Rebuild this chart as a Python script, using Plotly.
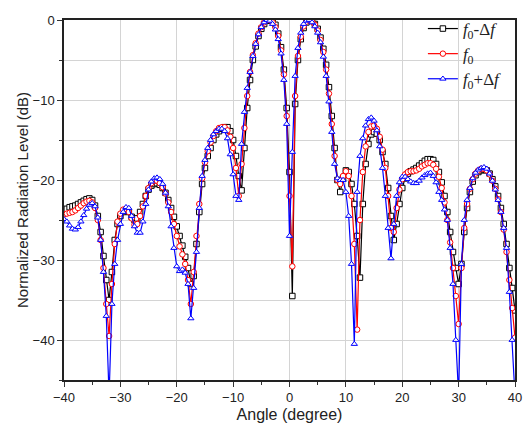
import plotly.graph_objects as go

angles = [-40 + 0.5 * i for i in range(161)]

black_db = [
 -23.8,-23.6,-23.4,-23.3,-23.2,-23.0,-22.8,-22.6,-22.4,-22.3,
 -22.5,-23.2,-24.5,-26.5,-29.5,-32.5,-35.0,-31.5,-27.5,-25.5,
 -24.5,-24.0,-23.8,-24.0,-24.6,-25.0,-24.8,-24.0,-23.0,-22.0,
 -21.2,-20.7,-20.5,-20.4,-20.6,-21.0,-21.6,-22.5,-23.5,-24.6,
 -25.8,-27.0,-28.2,-29.6,-31.0,-33.0,-32.0,-28.0,-24.0,-20.5,
 -18.5,-17.0,-16.0,-15.0,-14.3,-13.9,-13.6,-13.4,-13.4,-13.9,
 -15.0,-17.0,-19.5,-21.3,-16.0,-11.0,-7.5,-5.0,-3.3,-2.0,
 -1.1,-0.5,-0.1,0.0,-0.1,-0.6,-1.7,-3.4,-6.2,-11.0,
 -19.0,-34.5,-10.5,-5.0,-2.4,-1.0,-0.3,0.0,-0.1,-0.5,
 -1.1,-2.2,-3.6,-5.6,-8.4,-12.0,-16.0,-20.0,-21.5,-19.8,
 -18.8,-19.0,-20.5,-23.0,-27.0,-32.2,-23.0,-18.0,-15.5,-14.3,
 -14.0,-14.2,-15.0,-16.5,-18.0,-21.0,-24.5,-27.5,-25.5,-23.0,
 -21.0,-19.8,-19.2,-18.9,-18.7,-18.5,-18.2,-17.9,-17.6,-17.4,
 -17.4,-17.5,-18.0,-19.0,-20.3,-22.0,-24.0,-26.5,-29.0,-31.0,
 -33.0,-30.5,-26.5,-23.5,-21.5,-20.2,-19.4,-19.0,-18.8,-18.7,
 -18.8,-19.2,-19.9,-20.8,-22.0,-23.5,-25.5,-28.0,-31.0,-33.5,
 -36.3]

red_db = [
 -24.3,-24.2,-24.1,-24.0,-23.8,-23.5,-23.2,-22.9,-22.7,-22.6,
 -22.8,-23.5,-25.0,-27.5,-31.0,-35.5,-39.5,-33.0,-28.0,-25.2,
 -24.2,-23.7,-23.6,-24.0,-24.8,-25.6,-25.5,-24.5,-23.3,-22.0,
 -21.0,-20.4,-20.1,-20.1,-20.4,-20.9,-21.7,-22.8,-24.0,-25.5,
 -27.0,-28.3,-29.3,-30.5,-32.5,-35.5,-31.5,-27.0,-23.0,-19.8,
 -17.8,-16.4,-15.3,-14.5,-13.9,-13.5,-13.4,-13.4,-13.8,-14.6,
 -16.0,-18.5,-22.0,-18.0,-13.5,-9.5,-6.5,-4.4,-2.9,-1.7,
 -0.9,-0.3,0.0,0.0,-0.3,-0.9,-2.0,-3.8,-6.8,-12.0,
 -22.0,-30.8,-9.5,-4.5,-2.1,-0.8,-0.2,0.0,-0.2,-0.6,
 -1.3,-2.5,-4.0,-6.2,-9.2,-13.0,-17.0,-20.0,-20.5,-19.5,
 -18.9,-19.5,-22.0,-28.0,-38.7,-25.0,-19.0,-15.8,-14.0,-13.3,
 -13.2,-13.6,-14.6,-16.2,-18.5,-22.0,-26.0,-26.5,-23.5,-21.2,
 -19.9,-19.3,-19.0,-18.9,-18.9,-18.8,-18.6,-18.3,-18.1,-17.9,
 -17.9,-18.1,-18.6,-19.6,-21.0,-22.8,-25.0,-27.8,-31.0,-34.5,
 -38.0,-31.0,-26.0,-23.0,-21.1,-19.9,-19.2,-18.8,-18.6,-18.6,
 -18.8,-19.3,-20.1,-21.1,-22.4,-24.0,-26.2,-29.0,-32.5,-36.0,
 -39.7]

blue_db = [
 -24.9,-25.2,-25.7,-26.1,-26.2,-25.9,-25.2,-24.4,-23.6,-23.1,
 -22.9,-23.3,-24.7,-27.5,-31.5,-37.0,-47.0,-35.5,-30.5,-27.5,
 -25.5,-24.0,-23.4,-23.5,-24.5,-25.8,-26.6,-26.6,-25.2,-23.0,
 -21.2,-20.2,-19.8,-19.7,-19.9,-20.5,-21.6,-23.3,-25.8,-28.5,
 -30.8,-31.4,-31.2,-31.6,-33.0,-37.3,-33.5,-29.0,-23.5,-19.5,
 -17.5,-16.0,-15.0,-14.3,-13.9,-13.6,-13.6,-13.9,-14.8,-16.8,
 -19.3,-22.0,-22.5,-15.5,-11.5,-8.5,-6.5,-4.5,-3.0,-1.8,
 -0.9,-0.3,0.0,-0.1,-0.5,-1.2,-2.4,-4.2,-7.5,-13.0,
 -27.0,-16.5,-7.0,-3.5,-1.6,-0.5,-0.1,0.0,-0.3,-0.8,
 -1.6,-2.8,-4.6,-7.0,-10.2,-14.0,-18.0,-19.8,-20.0,-20.0,
 -21.5,-24.5,-30.5,-40.5,-21.5,-17.0,-14.8,-13.2,-12.4,-12.2,
 -12.6,-13.8,-15.8,-18.5,-22.0,-26.0,-29.8,-25.5,-22.0,-20.3,
 -19.6,-19.6,-19.9,-20.2,-20.4,-20.4,-20.1,-19.7,-19.4,-19.2,
 -19.1,-19.5,-20.3,-21.5,-22.5,-23.7,-25.0,-28.5,-33.0,-40.0,
 -47.0,-30.5,-25.0,-22.5,-21.0,-19.8,-19.1,-18.7,-18.5,-18.4,
 -18.6,-19.2,-20.1,-21.2,-22.5,-24.0,-26.0,-28.5,-34.0,-40.0,
 -47.0]

series_names = ["<i>f</i><sub>0</sub>-Δ<i>f</i>", "<i>f</i><sub>0</sub>", "<i>f</i><sub>0</sub>+Δ<i>f</i>"]
x_ticks = [-40, -30, -20, -10, 0, 10, 20, 30, 40]
y_ticks = [0, -10, -20, -30, -40]

styles = [("#000000", "square"), ("#ff0000", "circle"), ("#0000ff", "triangle-up")]

fig = go.Figure()
for name, vals, (col, sym) in zip(series_names, [black_db, red_db, blue_db], styles):
    fig.add_trace(go.Scatter(
        x=angles, y=vals, mode="lines+markers", name=name,
        line=dict(color=col, width=1.2),
        marker=dict(symbol=sym, size=5.5, color="white", line=dict(color=col, width=1)),
        cliponaxis=True,
    ))

axis_common = dict(
    showline=True, linecolor="#222222", linewidth=1.5, mirror=True,
    ticks="outside", ticklen=5, tickcolor="#333333", automargin=False,
    tickfont=dict(family="Liberation Sans, Arial", size=13, color="#222222"),
    gridcolor="#d4d4d4", gridwidth=1, zeroline=False,
)

fig.update_layout(
    width=526, height=431,
    margin=dict(l=64, r=11, t=12, b=51),
    paper_bgcolor="white", plot_bgcolor="white",
    showlegend=True,
    legend=dict(x=0.982, y=1.025, xanchor="right", yanchor="top",
                bgcolor="rgba(0,0,0,0)", borderwidth=0,
                font=dict(family="Liberation Serif, Times New Roman", size=17, color="#222222"),
                itemwidth=30),
    xaxis=dict(range=[-40, 40], tickvals=x_ticks, title=dict(text="Angle (degree)",
               font=dict(family="Liberation Sans, Arial", size=16, color="#222222"), standoff=4),
               minor=dict(dtick=5, ticks="outside", ticklen=3, tickcolor="#333333", showgrid=False),
               **axis_common),
    yaxis=dict(range=[-45, 0], tickvals=y_ticks, title=dict(text="Normalized Radiation Level (dB)",
               font=dict(family="Liberation Sans, Arial", size=15, color="#222222"), standoff=0),
               minor=dict(dtick=5, ticks="outside", ticklen=3, tickcolor="#333333",
                          showgrid=True, gridcolor="#d4d4d4", gridwidth=1),
               **axis_common),
    font=dict(family="Liberation Sans, Arial"),
)

fig.write_html("out.html", config={"displayModeBar": False},
               post_script="document.body.style.margin='0px';document.body.style.overflow='hidden';")
